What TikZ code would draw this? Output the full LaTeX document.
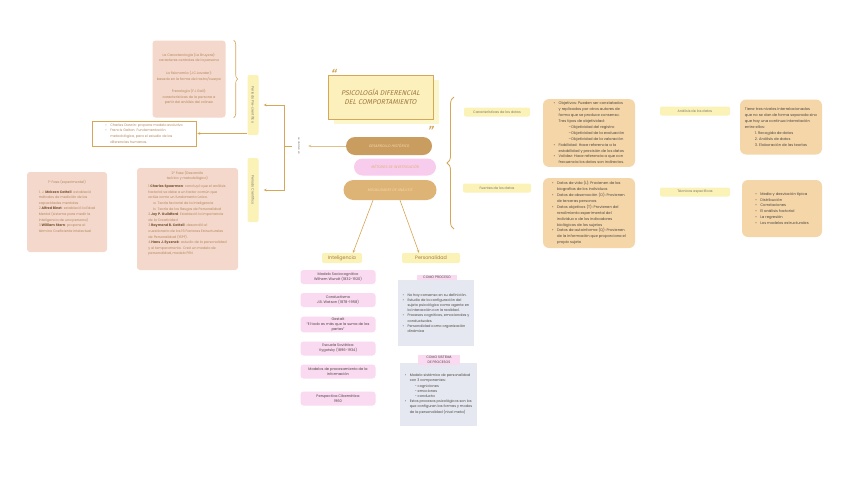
\documentclass[tikz,border=0pt]{standalone}
\usepackage{fontspec}
\setmainfont{Poppins}
\newfontfamily\titlefont{Fira Sans}[FakeSlant=0.22]
\usetikzlibrary{arrows.meta,positioning,shapes.misc,decorations.pathreplacing}
\definecolor{pdTan}{HTML}{D6A757}
\definecolor{pdPeach}{HTML}{F4D8CB}
\definecolor{pdPeachText}{HTML}{B3865A}
\definecolor{pdUmber}{HTML}{7A5530}
\definecolor{pdYellow}{HTML}{FBF2B8}
\definecolor{pdTitle}{HTML}{FCF1BD}
\definecolor{pdBrown}{HTML}{A37A3F}
\definecolor{pdBlobDark}{HTML}{C99D5F}
\definecolor{pdBlobPink}{HTML}{F8CCEC}
\definecolor{pdBlobLight}{HTML}{DDB475}
\definecolor{pdSand}{HTML}{F5D6A9}
\definecolor{pdPink}{HTML}{FADAF0}
\definecolor{pdMist}{HTML}{E5E8F0}
\definecolor{pdInk}{HTML}{4B4640}
\newcommand\itm{\makebox[5pt][l]{\textbullet}}
\newcommand\ind{\hspace*{5pt}}
\newcommand\nm[1]{\textbf{\color{pdUmber}#1}}

\begin{document}
\begin{tikzpicture}[x=1pt,y=-1pt,
    font=\fontsize{3.4}{5.6}\selectfont,
    conn/.style={draw=pdTan,line width=0.6pt},
    tip/.style={-{Stealth[length=3pt,width=2.6pt]}},
    peachbox/.style={fill=pdPeach,rounded corners=3pt,inner sep=0pt},
    peachtext/.style={text=pdPeachText,inner sep=1pt},
    marker/.style={fill=pdYellow,rounded corners=2pt,text=pdInk!75,inner sep=1pt},
    sandbox/.style={fill=pdSand,rounded corners=6pt,text=pdInk,align=left,
                    inner sep=3pt,font=\fontsize{3.7}{5.9}\selectfont},
    pinkbox/.style={fill=pdPink,rounded corners=3pt,text=pdInk,align=center,
                    minimum width=75pt,minimum height=14pt,inner sep=1pt,
                    font=\fontsize{3.6}{5}\selectfont},
    mistbox/.style={fill=pdMist,text=pdInk,align=left,inner sep=3pt,
                    font=\fontsize{3.5}{5.2}\selectfont},
    tag/.style={fill=pdPink,text=pdInk,align=center,inner sep=1.5pt,
                font=\fontsize{3.4}{4.4}\selectfont},
    blob/.style={rounded rectangle,inner sep=1pt,
                 font=\titlefont\fontsize{3.7}{4.5}\selectfont}]
  \fill[white] (0,0) rectangle (848,477);
  \useasboundingbox (0,0) rectangle (848,477);

  % title and central blobs
  \node[fill=pdYellow!70!white,minimum width=105pt,minimum height=44pt] (titleshadow) at (386,102) {};
  \node[fill=pdTitle,draw=pdTan,line width=0.8pt,minimum width=105pt,minimum height=44pt,
        text=pdBrown,align=center,font=\titlefont\fontsize{7}{9}\selectfont] (title) at (380.5,97)
        {PSICOLOGÍA DIFERENCIAL\\DEL COMPORTAMIENTO};
  \node[text=pdTan,font=\titlefont\bfseries\fontsize{12}{12}\selectfont] (qopen) at (333,74) {“};
  \node[text=pdTan,font=\titlefont\bfseries\fontsize{12}{12}\selectfont] (qclose) at (430,131) {”};
  \node[blob,fill=pdBlobDark,text=pdSand,minimum width=88pt,minimum height=18pt] (hist) at (389,146) {DESARROLLO HISTÓRICO};
  \node[blob,fill=pdBlobPink,text=pdBlobLight,minimum width=84pt,minimum height=17pt] (metod) at (395,167) {MÉTODOS DE INVESTIGACIÓN};
  \node[blob,fill=pdBlobLight,text=pdSand,minimum width=95pt,minimum height=20pt] (modal) at (390,190) {MODALIDADES DE ANÁLISIS};

  % historical periods
  \node[rotate=-90,text=pdInk!70,font=\fontsize{2.6}{3}\selectfont,inner sep=1pt] (div) at (299,146) {se dividen en};
  \draw[conn,tip,draw=pdTan!70,shorten >=7pt] (hist.west) -- (hist.west -| div.north);
  \node[marker,rotate=-90,minimum width=60pt,minimum height=11pt] (pre) at (253,105) {Periodo Pre-científico};
  \node[marker,rotate=-90,minimum width=64pt,minimum height=11pt] (cien) at (253,190) {Periodo Científico};
  \coordinate (fork) at (284,146);
  \draw[conn] ([xshift=-5pt]div.south) -- (fork);
  \draw[conn,tip] (fork) |- ([xshift=5pt]pre.north);
  \draw[conn,tip] (fork) |- ([xshift=5pt]cien.north);

  \node[peachbox,peachtext,inner sep=1pt,align=center,minimum width=73pt,minimum height=77pt] (preeras) at (189,79)
    {La Caracterología (La Bruyere):\\caracteres centrales de la persona\\[7pt]
     La fisionomía (J.C.Lavater):\\basado en la forma del rostro/cuerpo\\[7pt]
     Frenología (F.J.Gall):\\características de la persona a\\partir del análisis del cráneo};
  \draw[conn,decorate,decoration={brace,amplitude=4pt}]
    ([xshift=8pt]preeras.north east) -- ([xshift=8pt]preeras.south east);
  \node[draw=pdTan,line width=0.5pt,fill=white,text=pdPeachText,align=left,
        minimum width=104pt,minimum height=25pt,inner sep=2pt] (darwin) at (144,133.5)
    {\itm Charles Darwin: propone modelo evolutivo\\
     \itm Francis Galton: Fundamentación\\
     \ind metodológica, para el estudio de las\\
     \ind diferencias humanas.};
  \draw[conn,tip,shorten >=1pt] (darwin.east -| pre.south) -- (darwin.east);

  \node[peachbox,minimum width=80pt,minimum height=80pt] (fase1) at (67,212) {};
  \node[peachtext,below=7pt of fase1.north] (fase1head) {1° Fase (experimental)};
  \node[peachtext,align=left,below=4pt of fase1head] (fase1list)
    {1. J. \nm{Mckeen Cattell}: estableció\\
     métodos de medición de las\\
     capacidades mentales\\
     2.\nm{Alfred Binet}: estableció la Edad\\
     Mental (sistema para medir la\\
     inteligencia de una persona)\\
     3.\nm{William Stern}: propone el\\
     término Coeficiente Intelectual};

  \node[peachbox,minimum width=101pt,minimum height=102pt] (fase2) at (187.5,219) {};
  \node[peachtext,align=center,below=2pt of fase2.north] (fase2head) {2° Fase (Desarrollo\\teórico y metodológico)};
  \node[peachtext,align=left,below=2pt of fase2head] (fase2list)
    {1.\nm{Charles Spearman}: concluyó que el análisis\\
     factorial se debe a un factor común que\\
     actúa como un fundamento único.\\
     \ind a. Teoría factorial de la inteligencia\\
     \ind b. Teoría de los Rasgos de Personalidad\\
     2.\nm{Joy P. Guildford}: Estableció la importancia\\
     de la Creatividad\\
     3.\nm{Raymond B. Cattell}: desarrolló el\\
     cuestionario de los 16 Factores Estructurales\\
     de Personalidad (16PF).\\
     4.\nm{Hans J. Eysenck}: estudio de la personalidad\\
     y el temperamento. Creó un modelo de\\
     personalidad, modelo PEN};

  % research methods
  \coordinate (bracebot) at (454,229);
  \coordinate (bracetop) at (454,97);
  \draw[conn,line width=0.8pt,decorate,decoration={brace,amplitude=7pt}] (bracebot) -- (bracetop);
  \node[marker,minimum width=66pt,minimum height=9pt] (carac) at (497,112) {Características de los datos};
  \node[marker,minimum width=68pt,minimum height=9pt] (fuent) at (497,188) {Fuentes de los datos};
  \node[marker,minimum width=70pt,minimum height=9pt] (anal) at (695,111) {Análisis de los datos};
  \node[marker,minimum width=70pt,minimum height=9pt] (tecn) at (695,192) {Técnicas específicas};

  \node[sandbox,minimum width=92pt,minimum height=66pt] (objet) at (589,133)
    {\itm Objetivos: Pueden ser constatados\\
     \ind y replicados por otros autores de\\
     \ind forma que se produce consenso.\\
     \ind Tres tipos de objetividad:\\
     \ind\ind\ind --Objetividad del registro\\
     \ind\ind\ind --Objetividad de la evaluación\\
     \ind\ind\ind --Objetividad de la valoración\\
     \itm Fiabilidad: Hace referencia a la\\
     \ind estabilidad y precisión de los datos\\
     \itm Validez: Hace referencia a que con\\
     \ind frecuencia los datos son indirectos.};
  \node[sandbox,minimum width=92pt,minimum height=70pt] (datos) at (589,213)
    {\itm Datos de vida (L): Provienen de las\\
     \ind biografías de los individuos\\
     \itm Datos de observación (O): Provienen\\
     \ind de terceras personas\\
     \itm Datos objetivos (T): Provienen del\\
     \ind rendimiento experimental del\\
     \ind individuo o de los indicadores\\
     \ind biológicos de los sujetos\\
     \itm Datos de autoinforme (Q): Provienen\\
     \ind de la información que proporciona el\\
     \ind propio sujeto};
  \node[sandbox,minimum width=82pt,minimum height=55pt] (nivel) at (781,127)
    {Tiene tres niveles interrelacionados\\
     que no se dan de forma separada sino\\
     que hay una continua interrelación\\
     entre ellos:\\
     \ind\ind 1. Recogida de datos\\
     \ind\ind 2. Análisis de datos\\
     \ind\ind 3. Elaboración de las teorías};
  \node[sandbox,inner xsep=9pt,minimum width=80pt,minimum height=57pt] (tecnlist) at (782,208.5)
    {\itm Media y desviación típica\\
     \itm Distribución\\
     \itm Correlaciones\\
     \itm El análisis factorial\\
     \itm La regresión\\
     \itm Los modelos estructurales};

  % analysis modalities
  \node[marker,minimum width=40pt,minimum height=10pt,font=\fontsize{4.8}{5}\selectfont,text=pdBrown] (intel) at (342,258) {Inteligencia};
  \node[marker,minimum width=58pt,minimum height=10pt,font=\fontsize{4.8}{5}\selectfont,text=pdBrown] (perso) at (431,258) {Personalidad};
  \draw[conn,tip] ([xshift=-17pt]modal.south) -- ([xshift=11pt]intel.north);
  \draw[conn,tip] ([xshift=10pt]modal.south) -- ([xshift=-12pt]perso.north);

  \node[pinkbox] (wundt) at (338,277) {Modelo Sociocognitivo\\Wilhem Wundt (1832-1920)};
  \node[pinkbox] (watson) at (338,300) {Conductismo\\J.B. Watson (1878-1958)};
  \node[pinkbox,minimum height=15pt] (gestalt) at (338,324.5) {Gestalt\\“El todo es más que la suma de las\\partes”};
  \node[pinkbox] (vygot) at (338,348.5) {Escuela Soviética\\Vygotsky (1896-1934)};
  \node[pinkbox] (proces) at (338,371.5) {Modelos de procesamiento de la\\información};
  \node[pinkbox] (ciber) at (338,398.5) {Perspectiva Cibernética\\1960};

  \node[mistbox,minimum width=76pt,minimum height=66pt] (proceso) at (436,313)
    {\itm No hay consenso en su definición.\\
     \itm Estudio de la configuración del\\
     \ind sujeto psicológico como agente en\\
     \ind la interacción con la realidad.\\
     \itm Procesos cognitivos, emocionales y\\
     \ind conductuales.\\
     \itm Personalidad como organización\\
     \ind dinámica};
  \node[tag,minimum width=40pt] (tagproceso) at (437,277.5) {COMO PROCESO};
  \node[mistbox,minimum width=77pt,minimum height=63pt] (sistema) at (438.5,394)
    {\itm Modelo sistémico de personalidad\\
     \ind con 3 componentes:\\
     \ind\ind - cogniciones\\
     \ind\ind - emociones\\
     \ind\ind - conducta\\
     \itm Estos procesos psicológicos son los\\
     \ind que configuran las formas y modos\\
     \ind de la personalidad (nivel meta)};
  \node[tag,minimum width=42pt] (tagsistema) at (439,360) {COMO SISTEMA\\DE PROCESOS};
\end{tikzpicture}
\end{document}
